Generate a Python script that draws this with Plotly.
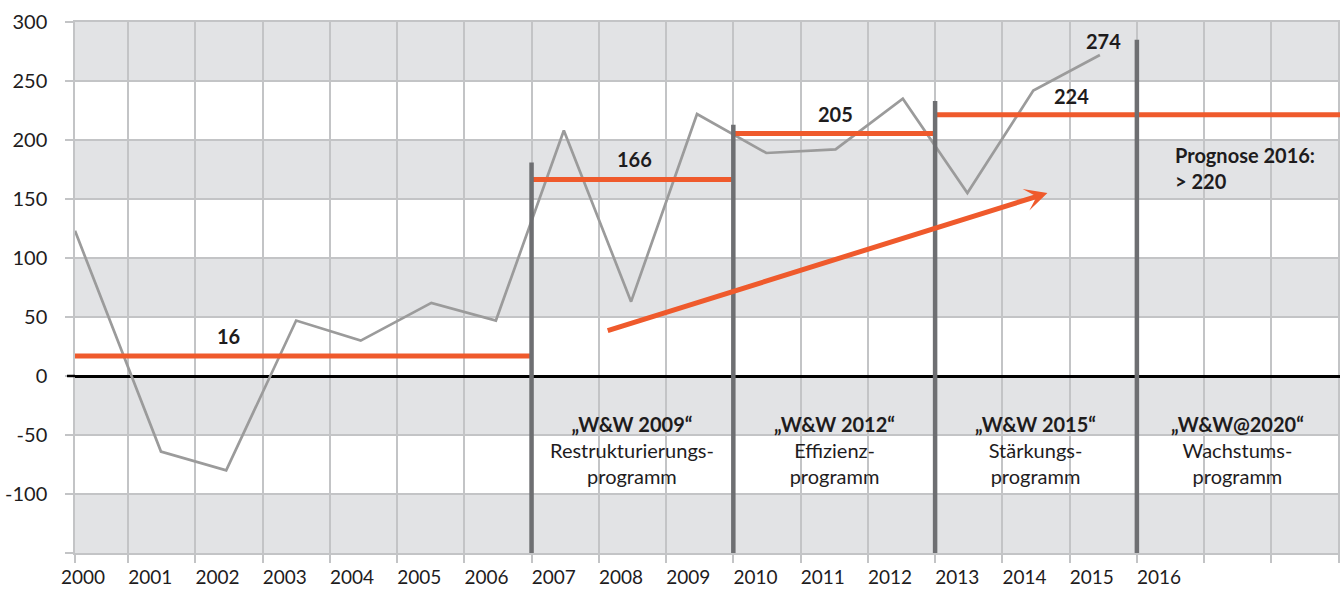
import plotly.graph_objects as go

# ---------------- data ----------------
years = list(range(2000, 2017))
year_labels = [str(y) for y in years]

# annual result (grey line), x in year units
result_x = [2000.212, 2001.49, 2002.46, 2003.50, 2004.46, 2005.51, 2006.47, 2007.48,
            2008.48, 2009.46, 2010.49, 2011.52, 2012.52, 2013.48, 2014.46, 2015.45]
result_y = [123, -64, -80, 47, 30, 62, 47, 208, 63, 222, 189, 192, 235, 155, 242, 272]

# programme period averages (red steps)
period_start = [2000.212, 2007, 2010, 2013]
period_end = [2007, 2010, 2013, 2019.02]
period_avg = [17, 166.5, 205.5, 221.5]
avg_text = ["16", "166", "205", "224"]
avg_text_x = [2002.5, 2008.53, 2011.52, 2015.03]
avg_text_y = [34, 184, 222, 237]

# programme boundaries (dark grey bars)
bar_x = [2007, 2010, 2013, 2016]
bar_top = [181, 213, 233, 285]

# programme names
prog_names = ["„W&W 2009“", "„W&W 2012“", "„W&W 2015“", "„W&W@2020“"]
prog_desc = ["Restrukturierungs-<br>programm", "Effizienz-<br>programm",
             "Stärkungs-<br>programm", "Wachstums-<br>programm"]
prog_center = [2008.5, 2011.5, 2014.5, 2017.5]

# trend arrow
arrow_tail = (2008.11, 38)
arrow_tip = (2014.67, 155)

y_ticks = [-150, -100, -50, 0, 50, 100, 150, 200, 250, 300]
y_ticktext = ["", "-100", "-50", "0", "50", "100", "150", "200", "250", "300"]

X_RANGE = [2000.212, 2019.02]
Y_RANGE = [-150, 300]

FONT = "Lato"
TXT = "#1e1c1d"
GRID = "#c3c4c6"
BAND = "#e2e3e5"
RED = "#ef5a2c"
BARC = "#6e6f72"

fig = go.Figure()

# grey result line
fig.add_trace(go.Scatter(x=result_x, y=result_y, mode="lines",
                         line=dict(color="#9b9b9b", width=2.7),
                         hoverinfo="skip", showlegend=False))

# red period averages
for s, e, v in zip(period_start, period_end, period_avg):
    fig.add_trace(go.Scatter(x=[s, e], y=[v, v], mode="lines",
                             line=dict(color=RED, width=5),
                             hoverinfo="skip", showlegend=False))

# dark grey programme bars
for bx, bt in zip(bar_x, bar_top):
    fig.add_trace(go.Scatter(x=[bx, bx], y=[Y_RANGE[0], bt], mode="lines",
                             line=dict(color=BARC, width=4.5),
                             hoverinfo="skip", showlegend=False))

# invisible trace for label axis
fig.add_trace(go.Scatter(x=[X_RANGE[0]], y=[0], xaxis="x2", mode="markers",
                         marker=dict(opacity=0), hoverinfo="skip", showlegend=False))

shapes = []
# alternating bands
for lo in [250, 150, 50, -50, -150]:
    shapes.append(dict(type="rect", xref="x domain", yref="y", x0=0, x1=1,
                       y0=lo, y1=lo + 50, fillcolor=BAND, line=dict(width=0),
                       layer="below"))
# black tick extension at zero
shapes.append(dict(type="line", xref="paper", yref="y", x0=-8 / 1265, x1=0,
                   y0=0, y1=0, line=dict(color="black", width=2.5), layer="above"))
fig.update_layout(shapes=shapes)

ann = []
for t, x, y in zip(avg_text, avg_text_x, avg_text_y):
    ann.append(dict(x=x, y=y, xref="x", yref="y", text="<b>" + t + "</b>",
                    showarrow=False, font=dict(family=FONT, size=20, color=TXT)))
ann.append(dict(x=2015.50, y=284, xref="x", yref="y", text="<b>274</b>",
                showarrow=False, font=dict(family=FONT, size=20, color=TXT)))
ann.append(dict(x=2016.54, y=176, xref="x", yref="y", xanchor="left", align="left",
                text="<b>Prognose 2016:<br>> 220</b>", showarrow=False,
                font=dict(family=FONT, size=20, color=TXT)))
for n, d, c in zip(prog_names, prog_desc, prog_center):
    ann.append(dict(x=c, y=-63, xref="x", yref="y", text="<b>" + n + "</b><br>" + d,
                    showarrow=False, align="center",
                    font=dict(family=FONT, size=20, color=TXT)))
# trend arrow
ann.append(dict(x=arrow_tip[0], y=arrow_tip[1], ax=arrow_tail[0], ay=arrow_tail[1],
                xref="x", yref="y", axref="x", ayref="y", text="",
                showarrow=True, arrowhead=3, arrowsize=0.75, arrowwidth=5,
                arrowcolor=RED, standoff=0, startstandoff=0))
fig.update_layout(annotations=ann)

fig.update_layout(
    width=1340, height=590,
    margin=dict(l=75, r=0, t=22, b=37),
    plot_bgcolor="white", paper_bgcolor="white",
    showlegend=False,
    xaxis=dict(range=X_RANGE, tickmode="array",
               tickvals=[X_RANGE[0]] + list(range(2001, 2020)),
               showticklabels=False, showgrid=True, gridcolor=GRID, gridwidth=1.5,
               ticks="outside", ticklen=8, tickcolor=GRID, tickwidth=1.5,
               showline=True, linecolor=GRID, linewidth=1.5, mirror=True,
               zeroline=False, fixedrange=True, automargin=False),
    xaxis2=dict(range=X_RANGE, overlaying="x", anchor="y", side="bottom",
                tickmode="array", tickvals=[y + 0.33 for y in years], ticktext=year_labels,
                showgrid=False, ticks="", showline=False, zeroline=False,
                ticklabelstandoff=11, automargin=False,
                tickfont=dict(family=FONT, size=19, color=TXT)),
    yaxis=dict(range=Y_RANGE, tickmode="array", tickvals=y_ticks, ticktext=y_ticktext,
               showgrid=True, gridcolor=GRID, gridwidth=1.5,
               ticks="outside", ticklen=8, tickcolor=GRID, tickwidth=1.5,
               showline=True, linecolor=GRID, linewidth=1.5, mirror=True,
               zeroline=True, zerolinecolor="black", zerolinewidth=2.5,
               ticklabelstandoff=14, automargin=False,
               tickfont=dict(family=FONT, size=20, color=TXT)),
)

fig.write_html("out.html", config={"displayModeBar": False},
               post_script="document.body.style.margin='0';document.body.style.overflow='hidden';")
